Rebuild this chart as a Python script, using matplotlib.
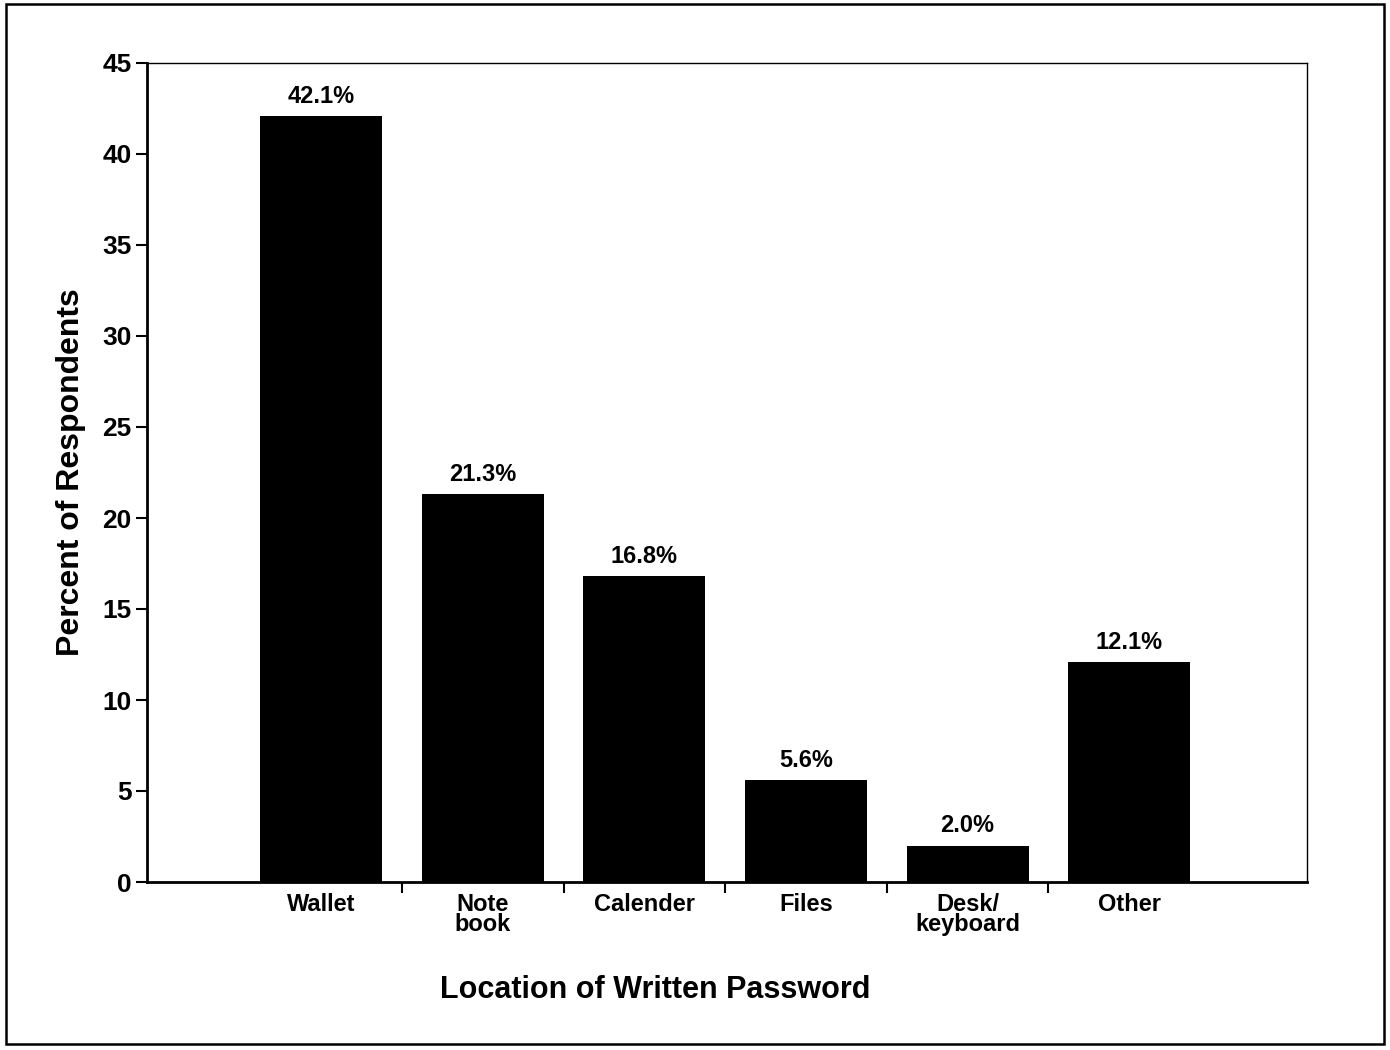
import numpy as np
import matplotlib.pyplot as plt
from matplotlib.patches import Rectangle

categories = ['Wallet', 'Note\nbook', 'Calender', 'Files', 'Desk/\nkeyboard', 'Other']
percents = [42.1, 21.3, 16.8, 5.6, 2.0, 12.1]
bar_labels = ['42.1%', '21.3%', '16.8%', '5.6%', '2.0%', '12.1%']

plt.rcParams['font.family'] = ['Liberation Sans Narrow', 'Liberation Sans', 'DejaVu Sans']
plt.rcParams['font.weight'] = 'bold'

fig = plt.figure(figsize=(13.9, 10.5), dpi=100)
ax = fig.add_axes([0.1058, 0.16, 0.8345, 0.78])

x = np.arange(len(categories))
ax.bar(x, percents, width=0.755, color='black')
for xi, v, lab in zip(x, percents, bar_labels):
    ax.text(xi, v + 0.45, lab, ha='center', va='bottom', fontsize=17, fontweight='bold')

ax.set_xlim(-1.077, 6.10)
ax.set_ylim(0, 45)
ax.set_yticks(np.arange(0, 46, 5))
ax.tick_params(axis='y', labelsize=19, length=8, width=1.5, direction='out', pad=3)

ax.set_xticks(x)
ax.set_xticklabels(categories, fontsize=17, fontweight='bold', linespacing=0.8)
ax.tick_params(axis='x', which='major', length=0, pad=8)
ax.set_xticks(x[:-1] + 0.5, minor=True)
ax.tick_params(axis='x', which='minor', length=8, width=1.5, direction='out')

for lab in ax.get_yticklabels():
    lab.set_fontweight('bold')

ax.spines['left'].set_linewidth(2)
ax.spines['bottom'].set_linewidth(2)
ax.spines['top'].set_linewidth(1)
ax.spines['top'].set_linestyle((0, (2, 1)))
ax.spines['right'].set_linewidth(1)

ax.set_ylabel('Percent of Respondents', fontsize=23, fontweight='bold', labelpad=12)
ax.set_xlabel('Location of Written Password', fontsize=22, fontweight='bold')
ax.xaxis.set_label_coords(0.438, -0.113)

# outer frame around the whole figure
fig.patches.append(Rectangle((0.004, 0.006), 0.992, 0.99, transform=fig.transFigure,
                             fill=False, edgecolor='black', linewidth=1.8))

fig.savefig('out.png', dpi=100)
